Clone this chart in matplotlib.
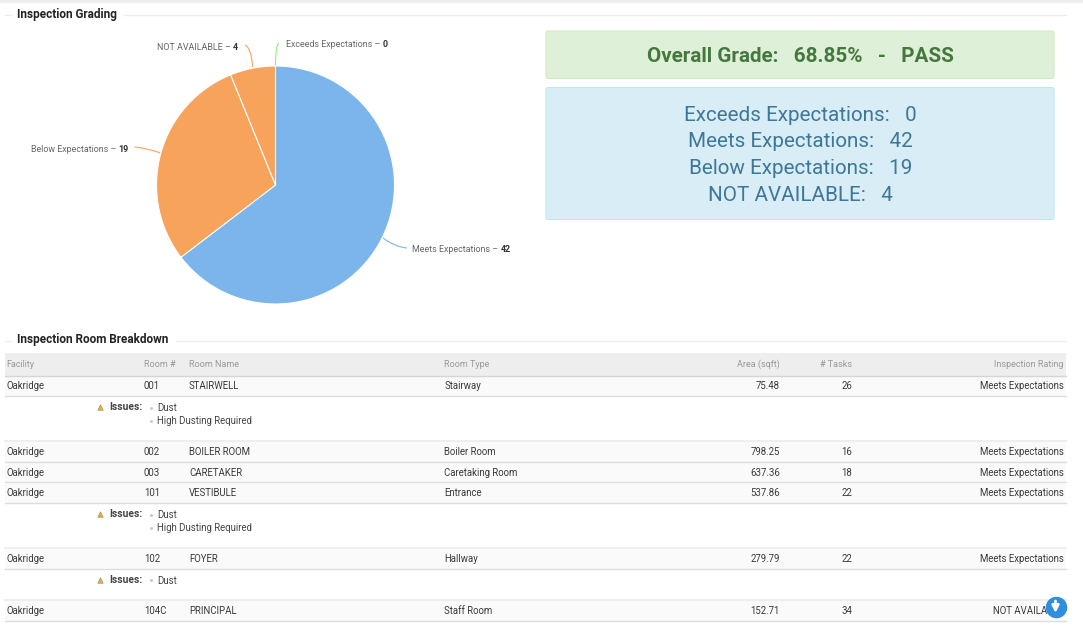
"""Inspection report screenshot: grading pie, summary boxes and room table."""
import matplotlib

matplotlib.use("Agg")
import matplotlib.pyplot as plt
from matplotlib.patches import FancyBboxPatch, PathPatch, Rectangle
from matplotlib.path import Path

W, H = 1083, 625

grades = ["Exceeds Expectations", "Meets Expectations", "Below Expectations", "NOT AVAILABLE"]
grade_counts = [0, 42, 19, 4]
grade_colors = ["#90ed7d", "#7cb5ec", "#f7a35c", "#f7a35c"]
overall_grade = "68.85%"
overall_result = "PASS"

columns = ["Facility", "Room #", "Room Name", "Room Type", "Area (sqft)", "# Tasks", "Inspection Rating"]
facility = ["Oakridge"] * 6
room_no = ["001", "002", "003", "101", "102", "104C"]
room_name = ["STAIRWELL", "BOILER ROOM", "CARETAKER", "VESTIBULE", "FOYER", "PRINCIPAL"]
room_type = ["Stairway", "Boiler Room", "Caretaking Room", "Entrance", "Hallway", "Staff Room"]
area = ["75.48", "798.25", "637.36", "537.86", "279.79", "152.71"]
tasks = ["26", "16", "18", "22", "22", "34"]
rating = ["Meets Expectations"] * 5 + ["NOT AVAILABLE"]
issues = [["Dust", "High Dusting Required"], [], [], ["Dust", "High Dusting Required"], ["Dust"], []]

plt.rcParams["font.family"] = ["Roboto", "DejaVu Sans"]

fig = plt.figure(figsize=(W / 100, H / 100), dpi=100, facecolor="white")
page = fig.add_axes([0, 0, 1, 1])
page.set_xlim(0, W)
page.set_ylim(H, 0)
page.axis("off")

page.add_patch(Rectangle((0, 0), W, 2.5, color="#efefef", lw=0))


def section(title, y, x_after):
    page.plot([5, 11], [y, y], color="#eeeeee", lw=1)
    page.plot([x_after, 1066], [y, y], color="#eeeeee", lw=1)
    page.text(17, y + 2.8, title, fontsize=8.5, fontweight="bold", color="#222222", va="baseline")


section("Inspection Grading", 15, 124)
section("Inspection Room Breakdown", 340.5, 176)

# pie
cx, cy, r = 275.5, 185, 119
pie_ax = fig.add_axes([(cx - r) / W, 1 - (cy + r) / H, 2 * r / W, 2 * r / H])
wedges, _ = pie_ax.pie(
    grade_counts, colors=grade_colors, startangle=90, counterclock=False, radius=1,
    wedgeprops=dict(edgecolor="white", linewidth=0.8),
)
pie_ax.set_xlim(-1, 1)
pie_ax.set_ylim(-1, 1)

# label anchor (text end nearest the pie), alignment, curved connector
label_pos = [(286, 47.3, "left"), (412.5, 252, "left"), (128.5, 151.5, "right"), (238, 49.8, "right")]
conn_start = [(275.5, 66), (383, 238), (160.5, 153), (252.7, 67)]
conn_mid = [(275.5, 44), (395, 247), (147, 148), (251, 47)]
conn_end = [(279, 43.5), (407, 248), (134.5, 147), (245, 45)]
renderer = fig.canvas.get_renderer()
for name, count, color, (lx, ly, ha), s, m, e in zip(
    grades, grade_counts, grade_colors, label_pos, conn_start, conn_mid, conn_end
):
    curve = Path([s, m, e], [Path.MOVETO, Path.CURVE3, Path.CURVE3])
    page.add_patch(PathPatch(curve, facecolor="none", edgecolor=color, lw=0.8))
    txt = page.text(lx, ly, f"{name} – ", fontsize=6.4, color="#666666", va="baseline", ha="left")
    num = page.text(lx, ly, str(count), fontsize=6.4, color="#333333", fontweight="bold", va="baseline", ha="left")
    w_txt = txt.get_window_extent(renderer).width
    w_num = num.get_window_extent(renderer).width
    x0 = lx - w_txt - w_num if ha == "right" else lx
    txt.set_x(x0)
    num.set_x(x0 + w_txt)


def box(x0, y0, x1, y1, face, edge):
    page.add_patch(FancyBboxPatch((x0, y0), x1 - x0, y1 - y0, boxstyle="round,pad=0,rounding_size=2",
                                  facecolor=face, edgecolor=edge, lw=0.8))


box(546, 31, 1054, 78.5, "#dff0d8", "#d6e9c6")
box(546, 87.5, 1054, 219.5, "#d9edf7", "#bce8f1")
page.text(800.5, 62.2, f"Overall Grade:   {overall_grade}   -   {overall_result}", fontsize=14.9,
          fontweight="bold", color="#44783f", ha="center", va="baseline")
for y, name, count in zip([120.6, 147, 174, 201], grades, grade_counts):
    page.text(800.5, y, f"{name}:   {count}", fontsize=14.9, color="#3d7799", ha="center", va="baseline")

# table
col_x = [6.5, 144, 189, 444.5, 780, 852, 1063.5]
col_ha = ["left", "left", "left", "left", "right", "right", "right"]
page.add_patch(Rectangle((5, 353), 1060.5, 22.5, color="#eeeeee", lw=0))
page.plot([5, 1065.5], [376, 376], color="#d5d5d5", lw=1)
for x, ha, label in zip(col_x, col_ha, columns):
    page.text(x, 367.3, label, fontsize=6.5, color="#999999", ha=ha, va="baseline")

row_y = [385.5, 451.2, 471.9, 492.5, 558.2, 610.2]
for i, y in enumerate(row_y):
    page.add_patch(Rectangle((5, y - 9), 1060.5, 19.5, color="#fafafa", lw=0, zorder=0))
    page.plot([5, 1065.5], [y + 10.5, y + 10.5], color="#dddddd", lw=1)
    if i in (1, 4, 5):
        page.plot([5, 1065.5], [y - 10, y - 10], color="#eeeeee", lw=1.5)
    cells = [facility[i], room_no[i], room_name[i], room_type[i], area[i], tasks[i], rating[i]]
    for x, ha, cell in zip(col_x, col_ha, cells):
        page.text(x, y + 3.8, cell, fontsize=6.95, color="#3a3a3a", ha=ha, va="baseline")
    if issues[i]:
        page.scatter([100.3], [y + 21.8], marker="^", s=16, color="#e0b040", edgecolor="#8a6d3b", lw=0.3)
        page.text(109, y + 24.5, "Issues:", fontsize=7.4, fontweight="bold", color="#444444", va="baseline")
        for j, issue in enumerate(issues[i]):
            page.scatter([150.7], [y + 22.2 + 13.3 * j], s=5, color="#cccccc", lw=0)
            page.text(157, y + 25.5 + 13.3 * j, issue, fontsize=6.95, color="#444444", va="baseline")

# scroll button over the last rating cell
page.scatter([1055.5], [607], s=240, color="#2f8fdc", lw=0, zorder=5)
page.annotate("", (1055.5, 613), (1055.5, 601), zorder=6,
              arrowprops=dict(arrowstyle="-|>", color="white", lw=2, mutation_scale=10, shrinkA=0, shrinkB=0))

fig.savefig("out.png", dpi=100)
